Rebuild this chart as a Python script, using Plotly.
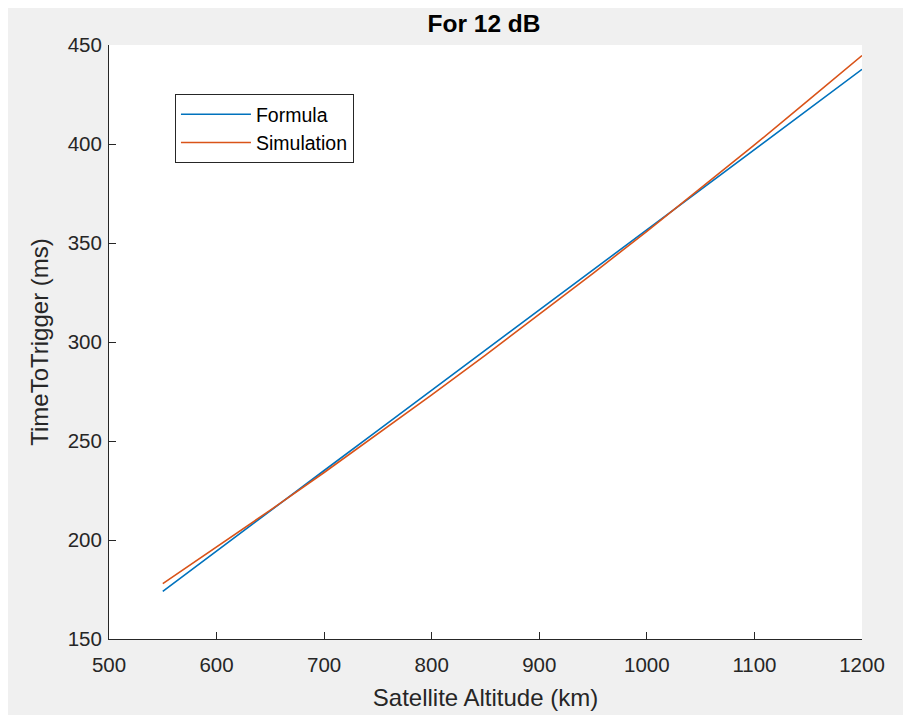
import plotly.graph_objects as go

altitude_km = [550, 600, 650, 700, 750, 800, 850, 900, 950, 1000, 1050, 1100, 1150, 1200]
formula_ms = [174.0, 194.5, 214.8, 235.1, 255.4, 275.7, 296.0, 316.3, 336.5, 356.7, 377.0, 397.2, 417.5, 437.7]
simulation_ms = [178.0, 196.5, 215.1, 234.1, 253.5, 273.3, 293.4, 313.9, 334.7, 355.9, 377.6, 399.5, 422.0, 444.7]

x_ticks = [500, 600, 700, 800, 900, 1000, 1100, 1200]
y_ticks = [150, 200, 250, 300, 350, 400, 450]

FONT = "Liberation Sans, Arial, sans-serif"
AX = "#262626"

W, H = 903, 707
L, R, T, B = 101, 49, 37, 76

fig = go.Figure()
fig.add_trace(go.Scatter(x=altitude_km, y=formula_ms, mode="lines", name="Formula",
                         line=dict(color="#0072BD", width=1.6)))
fig.add_trace(go.Scatter(x=altitude_km, y=simulation_ms, mode="lines", name="Simulation",
                         line=dict(color="#D95319", width=1.6)))

fig.update_layout(
    width=W, height=H,
    paper_bgcolor="#f0f0f0", plot_bgcolor="white",
    margin=dict(l=L, r=R, t=T, b=B, pad=0, autoexpand=False),
    font=dict(family=FONT, size=20, color=AX),
    title=dict(text="<b>For 12 dB</b>", x=476 / W, xanchor="center",
               y=1 - 15 / H, yanchor="middle", font=dict(size=24.5, color="black", family=FONT)),
    showlegend=True,
    legend=dict(x=0.0876, y=0.9175, xanchor="left", yanchor="top",
                bgcolor="white", bordercolor=AX, borderwidth=1,
                font=dict(size=19.5, color="black", family=FONT),
                tracegroupgap=0, itemwidth=70),
)
fig.update_xaxes(range=[500, 1200], tickvals=x_ticks, ticktext=[str(v) for v in x_ticks],
                 showline=True, linecolor=AX, linewidth=1, mirror=False, automargin=False,
                 ticks="inside", ticklen=7, tickcolor=AX, showgrid=False, zeroline=False,
                 tickfont=dict(size=20.5, color=AX), ticklabelstandoff=7,
                 title=dict(text="Satellite Altitude (km)", font=dict(size=24, color=AX), standoff=14))
fig.update_yaxes(range=[150, 450], tickvals=y_ticks, ticktext=[str(v) for v in y_ticks],
                 showline=True, linecolor=AX, linewidth=1, mirror=False, automargin=False,
                 ticks="inside", ticklen=7, tickcolor=AX, showgrid=False, zeroline=False,
                 tickfont=dict(size=20.5, color=AX), ticklabelstandoff=2,
                 title=dict(text="TimeToTrigger (ms)", font=dict(size=24, color=AX), standoff=12))

fig.write_html("out.html")
